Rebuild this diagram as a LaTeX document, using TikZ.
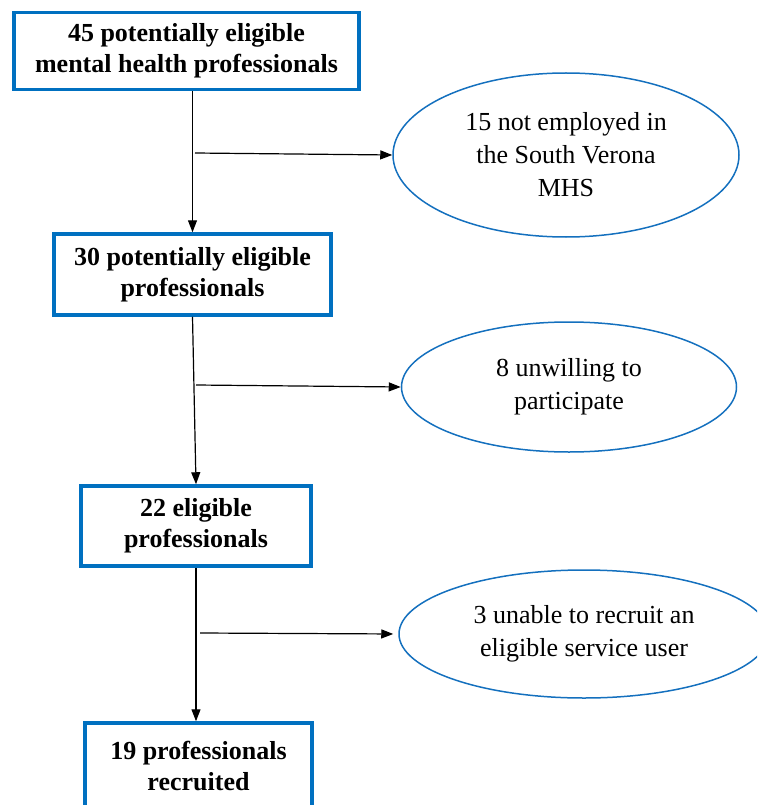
\documentclass[tikz,border=0pt]{standalone}
\usepackage{fontspec}
\setmainfont{Liberation Serif}
\usepackage{tikz}
\usetikzlibrary{
  arrows.meta,
  calc,
  positioning,
  shapes.geometric
}
\definecolor{boxblue}{RGB}{0,112,192}
\definecolor{ovalblue}{RGB}{20,112,190}
\tikzset{
  stage/.style={draw=boxblue,line width=3.5pt,fill=white,align=center,
    inner sep=0pt,font=\fontsize{26}{31}\selectfont\bfseries},
  excluded/.style={ellipse,draw=ovalblue,line width=1.5pt,align=center,
    inner sep=0pt,font=\fontsize{26}{33}\selectfont},
  flow/.style={-{Triangle[length=12pt,width=9pt]},line width=1.2pt,draw=black}
}

\begin{document}
\begin{tikzpicture}[x=1pt,y=-1pt]
  \useasboundingbox (0,0) rectangle (757,805);
  \clip (0,0) rectangle (757,805);
  % main stages
  \node[stage,minimum width=345pt,minimum height=77pt] (all) at (186.5,51)
    {45 potentially eligible\\mental health professionals};
  \node[stage,minimum width=277pt,minimum height=81pt] (potential) at (192.5,274.5)
    {30 potentially eligible\\professionals};
  \node[stage,minimum width=230pt,minimum height=80pt] (eligible) at (196,526)
    {22 eligible\\professionals};
  \node[stage,minimum width=227pt,minimum height=86pt] (recruited) at (198.5,766)
    {19 professionals\\recruited};
  % exclusions
  \node[excluded,minimum width=346pt,minimum height=164pt] (notemployed) at (566,155)
    {15 not employed in\\the South Verona\\MHS};
  \node[excluded,minimum width=335pt,minimum height=130pt] (unwilling) at (569,387)
    {8 unwilling to\\participate};
  \node[excluded,minimum width=370pt,minimum height=128pt] (unable) at (584,634)
    {3 unable to recruit an\\eligible service user};
  % branch points
  \coordinate (split1) at (195,153);
  \coordinate (split2) at (196,385);
  \coordinate (split3) at (200,633);
  \draw[flow] (potential.north |- all.south)--(potential.north);
  \draw[flow] (potential.south)--(eligible.north);
  \draw[flow] (eligible.south)--(eligible.south |- recruited.north);
  \draw[flow] (split1)--(notemployed.west);
  \draw[flow] (split2)--(unwilling.west);
  \draw[flow,shorten >=5pt] (split3)--(unable.west);
\end{tikzpicture}
\end{document}
